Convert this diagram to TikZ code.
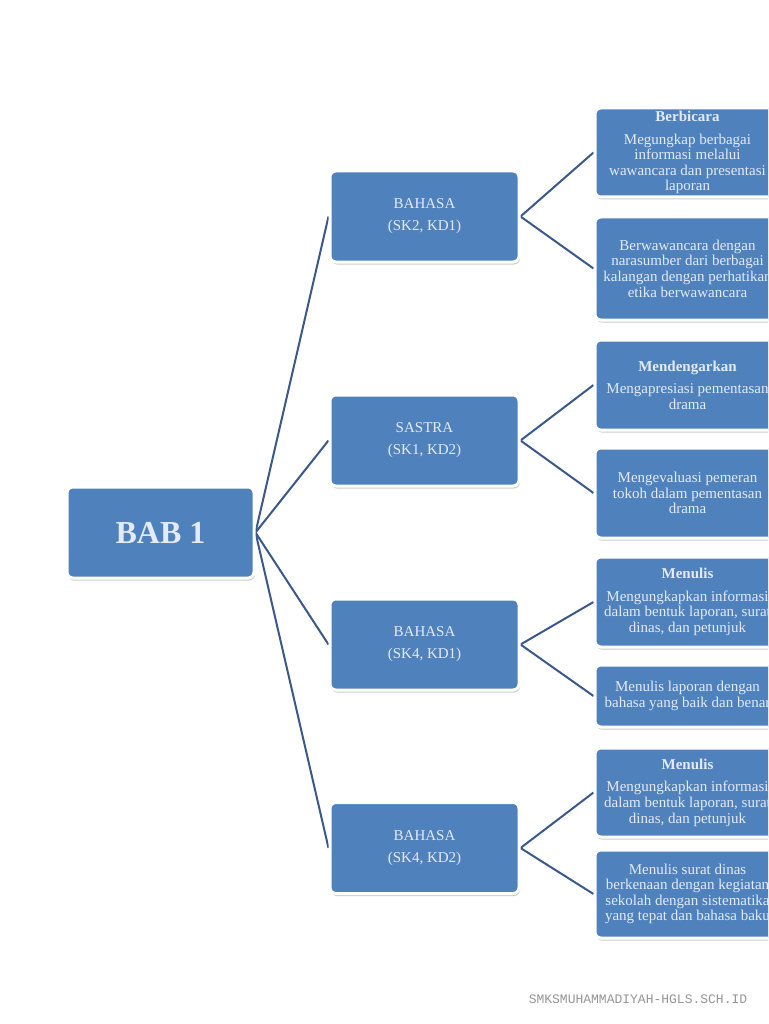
\documentclass[tikz,border=0pt]{standalone}
\usepackage{fontspec}
\setmainfont{Liberation Serif}
\setmonofont{Liberation Mono}
\usetikzlibrary{shadows,backgrounds}
\definecolor{officeblue}{RGB}{79, 129, 189}
\definecolor{linkblue}{RGB}{58, 88, 138}
\definecolor{markgray}{RGB}{150, 150, 150}
\definecolor{boxtext}{RGB}{228, 235, 247}

\tikzset{
  box/.style={rectangle, rounded corners=6pt, fill=officeblue, draw=white, line width=3pt,
              text=boxtext, align=center, inner sep=0pt,
              drop shadow={opacity=0.4, shadow xshift=1pt, shadow yshift=-2.5pt}},
  topbox/.style={box, minimum width=187pt, minimum height=91pt, font=\fontsize{32}{36}\selectfont\bfseries},
  midbox/.style={box, minimum width=189pt, minimum height=91pt, font=\fontsize{15}{22}\selectfont},
  leafbox/.style={box, minimum width=185pt, font=\fontsize{15}{15.6}\selectfont},
  link/.style={linkblue, line width=2pt}
}

\begin{document}
\begin{tikzpicture}[x=1pt, y=-1pt]
            \useasboundingbox (0,0) rectangle (768,1024);
            \clip (0,0) rectangle (768,1024);
            % root and the four topics
            \node[topbox]                        (bab)     at (160.5, 532.5) {BAB 1};
            \node[midbox]                        (bahasaA) at (424.5, 216.5) {BAHASA\\(SK2, KD1)};
            \node[midbox]                        (sastra)  at (424.5, 440.5) {SASTRA\\(SK1, KD2)};
            \node[midbox]                        (bahasaB) at (424.5, 644.5) {BAHASA\\(SK4, KD1)};
            \node[midbox]                        (bahasaC) at (424.5, 848.0) {BAHASA\\(SK4, KD2)};
            % leaves
            \node[leafbox, minimum height=89pt]  (bicara)  at (687.5, 152.5)
                 {{\bfseries Berbicara}\\[7pt]Megungkap berbagai\\informasi melalui\\wawancara dan presentasi\\laporan};
            \node[leafbox, minimum height=103pt] (wawan)   at (687.5, 268.5)
                 {Berwawancara dengan\\narasumber dari berbagai\\kalangan dengan perhatikan\\etika berwawancara};
            \node[leafbox, minimum height=90pt]  (dengar)  at (687.5, 385.0)
                 {{\bfseries Mendengarkan}\\[7pt]Mengapresiasi pementasan\\drama};
            \node[leafbox, minimum height=90pt]  (evalu)   at (687.5, 493.0)
                 {Mengevaluasi pemeran\\tokoh dalam pementasan\\drama};
            \node[leafbox, minimum height=90pt]  (tulisA)  at (687.5, 602.0)
                 {{\bfseries Menulis}\\[7pt]Mengungkapkan informasi\\dalam bentuk laporan, surat\\dinas, dan petunjuk};
            \node[leafbox, minimum height=62pt]  (lapor)   at (687.5, 696.0)
                 {Menulis laporan dengan\\bahasa yang baik dan benar};
            \node[leafbox, minimum height=89pt]  (tulisB)  at (687.5, 792.5)
                 {{\bfseries Menulis}\\[7pt]Mengungkapkan informasi\\dalam bentuk laporan, surat\\dinas, dan petunjuk};
            \node[leafbox, minimum height=88pt]  (surat)   at (687.5, 894.0)
                 {Menulis surat dinas\\berkenaan dengan kegiatan\\sekolah dengan sistematika\\yang tepat dan bahasa baku};
            \node[font=\ttfamily\fontsize{13}{14}\selectfont, text=markgray] (mark) at (638, 999) {SMKSMUHAMMADIYAH-HGLS.SCH.ID};
            % connectors
            \begin{scope}[on background layer]
            \fill[white] (0,0) rectangle (768,1024);
            \foreach \topic in {bahasaA, sastra, bahasaB, bahasaC}
                 \draw[link] (bab.east) -- (\topic.west);
            \draw[link] (bahasaA.east) -- (bicara.west);
            \draw[link] (bahasaA.east) -- (wawan.west);
            \draw[link] (sastra.east)  -- (dengar.west);
            \draw[link] (sastra.east)  -- (evalu.west);
            \draw[link] (bahasaB.east) -- (tulisA.west);
            \draw[link] (bahasaB.east) -- (lapor.west);
            \draw[link] (bahasaC.east) -- (tulisB.west);
            \draw[link] (bahasaC.east) -- (surat.west);
            \end{scope}
\end{tikzpicture}
\end{document}
